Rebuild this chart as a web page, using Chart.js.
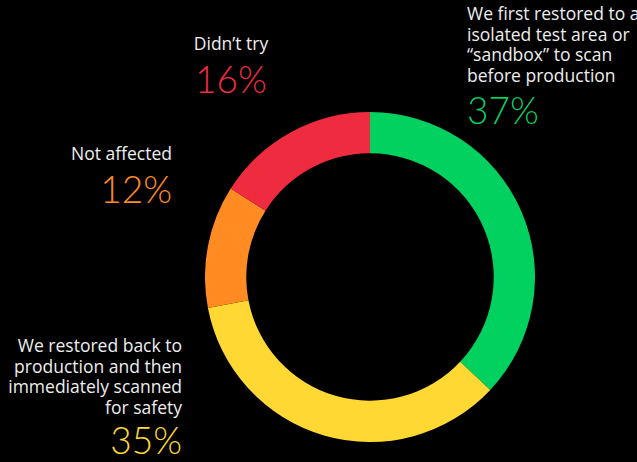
<!DOCTYPE html>
<html>
<head>
<meta charset="utf-8">
<script src="https://cdn.jsdelivr.net/npm/chart.js@4.4.1/dist/chart.umd.min.js"></script>
<style>
  html, body { margin: 0; padding: 0; background: #000; width: 637px; height: 462px; overflow: hidden; }
  #wrap { position: relative; width: 637px; height: 462px; overflow: hidden; }
  #ring { position: absolute; left: 205px; top: 112px; width: 330px; height: 330px; }
  .lbl { position: absolute; color: #eee; font-family: 'Open Sans', sans-serif; font-size: 17.5px; line-height: 20.5px; white-space: nowrap; }
  .pct { position: absolute; font-family: Lato, sans-serif; font-weight: 300; font-size: 37px; line-height: 37px; white-space: nowrap; }
</style>
</head>
<body>
<div id="wrap">
  <div id="ring"><canvas id="chart"></canvas></div>
</div>
<script>
var categories = [
  'We first restored to an isolated test area or \u201csandbox\u201d to scan before production',
  'We restored back to production and then immediately scanned for safety',
  'Not affected',
  'Didn\u2019t try'
];
var labelLines = [
  ['We first restored to an', 'isolated test area or', '\u201csandbox\u201d to scan', 'before production'],
  ['We restored back to', 'production and then', 'immediately scanned', 'for safety'],
  ['Not affected'],
  ['Didn\u2019t try']
];
var shares = [37, 35, 12, 16];
var colors = ['#00D15F', '#FFD833', '#FF8B22', '#EF2B40'];

// where each label sits: anchor x, text align, top of text, top of percent
var layout = [
  { x: 467, align: 'left',   textTop: 3,   pctTop: 91 },
  { x: 182, align: 'right',  textTop: 335, pctTop: 421 },
  { x: 172, align: 'right',  textTop: 143, pctTop: 170 },
  { x: 231, align: 'center', textTop: 33,  pctTop: 60 }
];

function place(el, l, top) {
  el.style.top = top + 'px';
  el.style.textAlign = l.align;
  if (l.align === 'left') el.style.left = l.x + 'px';
  else if (l.align === 'right') el.style.right = (637 - l.x) + 'px';
  else { el.style.left = l.x + 'px'; el.style.transform = 'translateX(-50%)'; }
}

var wrap = document.getElementById('wrap');
shares.forEach(function(v, i) {
  var t = document.createElement('div');
  t.className = 'lbl';
  t.innerHTML = labelLines[i].join('<br>');
  place(t, layout[i], layout[i].textTop);
  wrap.appendChild(t);

  var p = document.createElement('div');
  p.className = 'pct';
  p.style.color = colors[i];
  p.textContent = v + '%';
  place(p, layout[i], layout[i].pctTop);
  wrap.appendChild(p);
});

new Chart(document.getElementById('chart'), {
  type: 'doughnut',
  data: {
    labels: categories,
    datasets: [{ data: shares, backgroundColor: colors, borderWidth: 0 }]
  },
  options: {
    responsive: true, maintainAspectRatio: false, animation: false,
    cutout: '75%',
    layout: { padding: 0 },
    plugins: { legend: { display: false }, tooltip: { enabled: false } }
  }
});
</script>
</body>
</html>
